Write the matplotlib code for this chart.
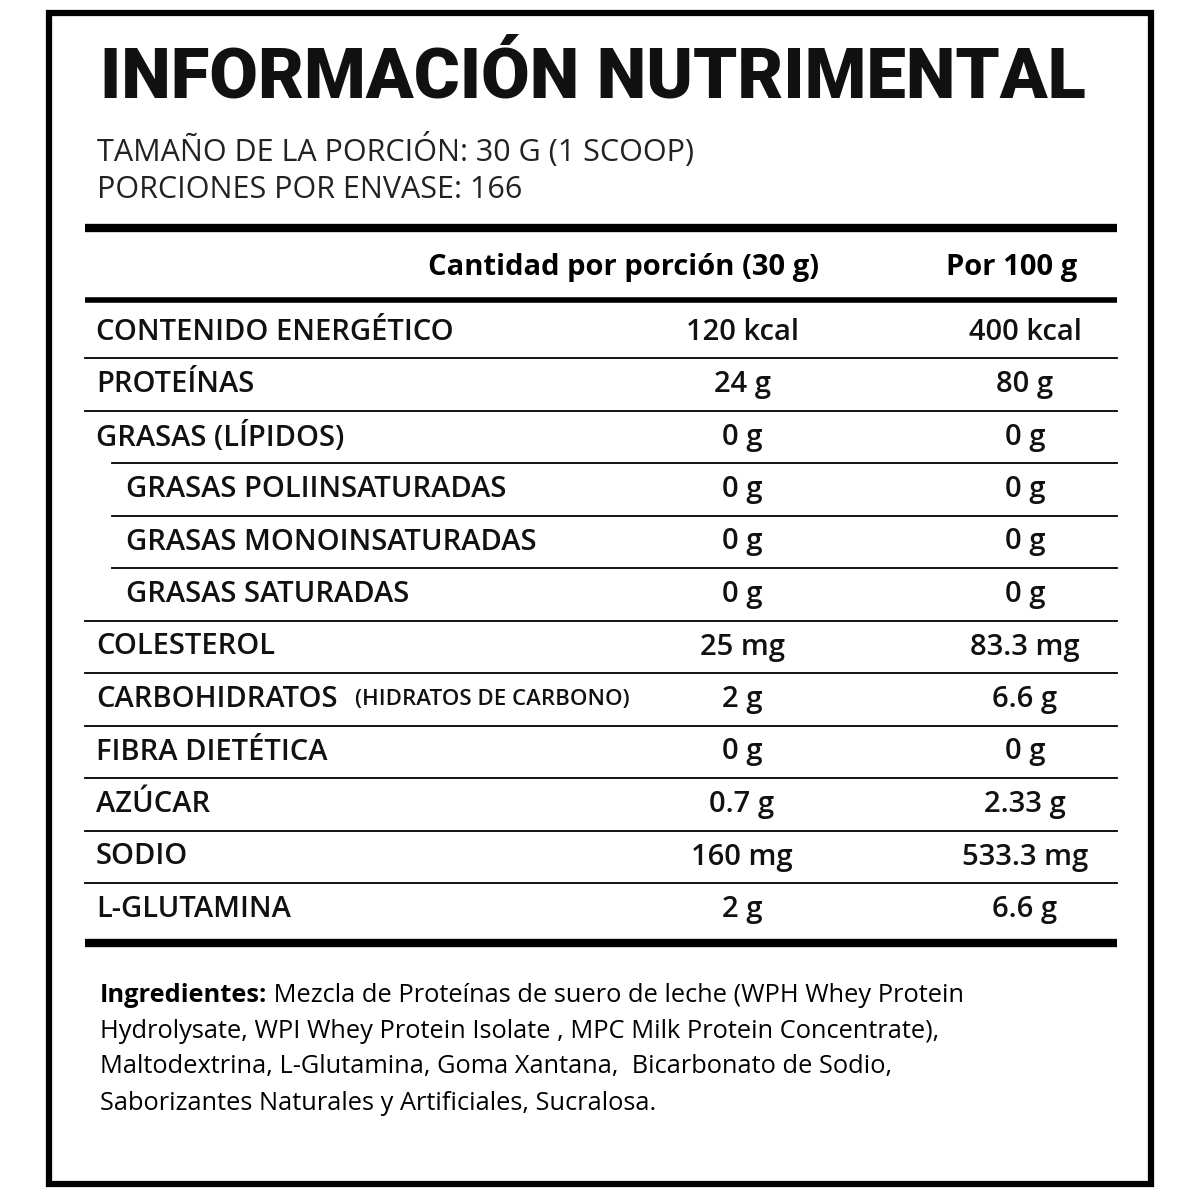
import matplotlib
matplotlib.use("Agg")
import matplotlib.pyplot as plt
from matplotlib.patches import Rectangle

title = "INFORMACIÓN NUTRIMENTAL"
serving_lines = ["TAMAÑO DE LA PORCIÓN: 30 G (1 SCOOP)", "PORCIONES POR ENVASE: 166"]
col_headers = ["Cantidad por porción (30 g)", "Por 100 g"]
nutrients = ["CONTENIDO ENERGÉTICO", "PROTEÍNAS", "GRASAS (LÍPIDOS)", "GRASAS POLIINSATURADAS",
             "GRASAS MONOINSATURADAS", "GRASAS SATURADAS", "COLESTEROL", "CARBOHIDRATOS",
             "FIBRA DIETÉTICA", "AZÚCAR", "SODIO", "L-GLUTAMINA"]
indented = [False, False, False, True, True, True, False, False, False, False, False, False]
per_portion = ["120 kcal", "24 g", "0 g", "0 g", "0 g", "0 g", "25 mg", "2 g", "0 g", "0.7 g", "160 mg", "2 g"]
per_100g = ["400 kcal", "80 g", "0 g", "0 g", "0 g", "0 g", "83.3 mg", "6.6 g", "0 g", "2.33 g", "533.3 mg", "6.6 g"]
ingredients_lines = [
    ("Ingredientes:", " Mezcla de Proteínas de suero de leche (WPH Whey Protein"),
    ("", "Hydrolysate, WPI Whey Protein Isolate , MPC Milk Protein Concentrate),"),
    ("", "Maltodextrina, L-Glutamina, Goma Xantana,  Bicarbonato de Sodio,"),
    ("", "Saborizantes Naturales y Artificiales, Sucralosa."),
]

FONT = ["Open Sans", "DejaVu Sans"]
fig = plt.figure(figsize=(12, 12), dpi=100)
ax = fig.add_axes([0, 0, 1, 1])
ax.set_xlim(0, 1200); ax.set_ylim(1200, 0); ax.axis("off")

ax.add_patch(Rectangle((49, 13), 1102, 1171, fill=False, lw=4.5, ec="black"))
tt = ax.text(100, 78, title, fontsize=58, fontweight="heavy", family=["Roboto", "DejaVu Sans"],
             va="center", ha="left", color="#111")
fig.canvas.draw()
w = tt.get_window_extent().width
tt.set_fontsize(58 * 985 / w)
for i, s in enumerate(serving_lines):
    ax.text(97, 150 + i * 40, s, fontsize=22, fontweight="medium", family=FONT, va="center", ha="left", color="#222")

ax.plot([85, 1117], [228, 228], color="black", lw=6, solid_capstyle="butt")
ax.text(623, 267, col_headers[0], fontsize=21, fontweight="bold", family=FONT, ha="center", va="center")
ax.text(1012, 267, col_headers[1], fontsize=21, fontweight="bold", family=FONT, ha="center", va="center")
ax.plot([85, 1117], [300, 300], color="black", lw=4, solid_capstyle="butt")

y0, dy = 332, 52.5
for i, name in enumerate(nutrients):
    y = y0 + i * dy
    x = 126 if indented[i] else 96
    ax.text(x, y, name, fontsize=21, fontweight="semibold", family=FONT, ha="left", va="center", color="#111")
    if name == "CARBOHIDRATOS":
        ax.text(355, y, "(HIDRATOS DE CARBONO)", fontsize=16, fontweight="semibold", family=FONT,
                ha="left", va="center", color="#111")
    ax.text(742, y, per_portion[i], fontsize=21, fontweight="semibold", family=FONT, ha="center", va="center", color="#111")
    ax.text(1025, y, per_100g[i], fontsize=21, fontweight="semibold", family=FONT, ha="center", va="center", color="#111")
    if i < len(nutrients) - 1:
        ly = y + dy / 2
        xs = 112 if (indented[i + 1] or indented[i]) and i + 1 < 6 else 85
        ax.plot([xs, 1117], [ly, ly], color="black", lw=1.3)
ax.plot([85, 1117], [943, 943], color="black", lw=6, solid_capstyle="butt")

for i, (b, rest) in enumerate(ingredients_lines):
    y = 995 + i * 36
    if b:
        t = ax.text(100, y, b, fontsize=18.3, fontweight="bold", family=FONT, ha="left", va="center")
        fig.canvas.draw()
        bb = t.get_window_extent().transformed(ax.transData.inverted())
        ax.text(bb.x1, y, rest, fontsize=18.3, family=FONT, ha="left", va="center")
    else:
        ax.text(100, y, rest, fontsize=18.3, family=FONT, ha="left", va="center")

fig.savefig("out.png", dpi=100, facecolor="white")
